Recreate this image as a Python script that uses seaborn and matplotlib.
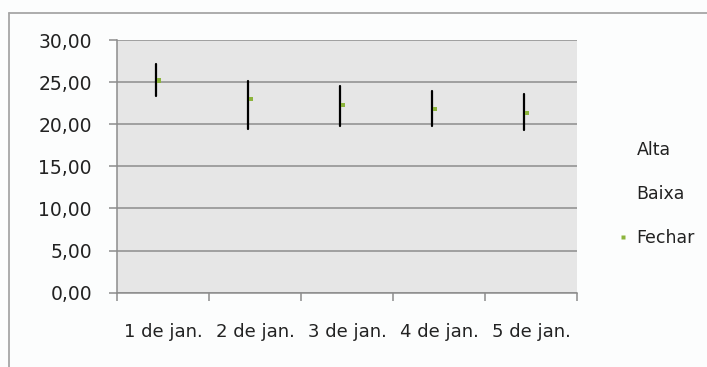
import matplotlib
matplotlib.use("Agg")
import matplotlib.pyplot as plt
from matplotlib.lines import Line2D
import numpy as np
import pandas as pd
import seaborn as sns

# Daily stock quotes
days = ["1 de jan.", "2 de jan.", "3 de jan.", "4 de jan.", "5 de jan."]
alta = [27.2, 25.1, 24.5, 24.0, 23.6]
baixa = [23.4, 19.4, 19.8, 19.8, 19.3]
fechar = [25.2, 23.0, 22.3, 21.8, 21.3]
y_ticks = [0, 5, 10, 15, 20, 25, 30]

sns.set_style("white")
plt.rcParams["font.family"] = ["DejaVu Sans"]

text_color = "#222222"
grid_color = "#8c8c8c"
close_color = "#8cb43c"

fig = plt.figure(figsize=(7.07, 3.67), dpi=100, facecolor="#fcfdfd")
ax = fig.add_axes([117 / 707, 1 - 292.7 / 367, 460 / 707, 252.7 / 367])
ax.set_facecolor("#e6e6e6")

idx = np.arange(len(days))
line_x = idx - 0.08
close_x = idx - 0.045

# High-low lines: one vertical segment per day
hl = pd.DataFrame({
    "x": np.concatenate([line_x, line_x]),
    "valor": alta + baixa,
    "dia": days + days,
})
sns.lineplot(data=hl, x="x", y="valor", units="dia", estimator=None,
             color="black", linewidth=1.6, ax=ax, legend=False, zorder=3)

# Closing quotes as small square markers
cl = pd.DataFrame({"x": close_x, "valor": fechar})
sns.scatterplot(data=cl, x="x", y="valor", marker="s", s=9, color=close_color,
                edgecolor="none", ax=ax, legend=False, zorder=4)

ax.set_xlim(-0.5, len(days) - 0.5)
ax.set_ylim(0, 30)
ax.set_yticks(y_ticks)
ax.set_yticklabels([f"{v:.2f}".replace(".", ",") for v in y_ticks])
ax.yaxis.grid(True, color=grid_color, linewidth=1.1)
ax.set_axisbelow(True)

# Category axis: tick marks between days, labels centred on each day
ax.set_xticks(np.arange(len(days) + 1) - 0.5)
ax.set_xticklabels([])
ax.set_xticks(idx, minor=True)
ax.set_xticklabels(days, minor=True)
ax.tick_params(axis="x", which="major", length=6, width=1.1, color=grid_color,
               direction="out", bottom=True)
ax.tick_params(axis="x", which="minor", length=0, pad=22, labelsize=13,
               labelcolor=text_color)
ax.tick_params(axis="y", length=6, width=1.1, color=grid_color, direction="out",
               left=True, pad=12, labelsize=13.5, labelcolor=text_color)

for side in ["top", "right"]:
    ax.spines[side].set_visible(False)
for side in ["left", "bottom"]:
    ax.spines[side].set_color(grid_color)
    ax.spines[side].set_linewidth(1.1)
ax.set_xlabel("")
ax.set_ylabel("")

# Legend
handles = [
    Line2D([], [], linestyle="none"),
    Line2D([], [], linestyle="none"),
    Line2D([], [], linestyle="none", marker="s", markersize=2.5,
           markerfacecolor=close_color, markeredgecolor="none"),
]
fig.legend(handles, ["Alta", "Baixa", "Fechar"], loc="center left",
           bbox_to_anchor=(606 / 707, 1 - 194 / 367), frameon=False,
           fontsize=12.5, labelspacing=1.52, handlelength=1.0,
           handletextpad=0.25, borderpad=0, labelcolor=text_color)

# Chart area frame
frame_kw = dict(color="#a6a6a6", linewidth=1.3, transform=fig.transFigure)
fig.add_artist(Line2D([9 / 707, 9 / 707], [0, 1 - 13 / 367], **frame_kw))
fig.add_artist(Line2D([9 / 707, 1], [1 - 13 / 367, 1 - 13 / 367], **frame_kw))

fig.savefig("out.png", dpi=100, facecolor=fig.get_facecolor())
